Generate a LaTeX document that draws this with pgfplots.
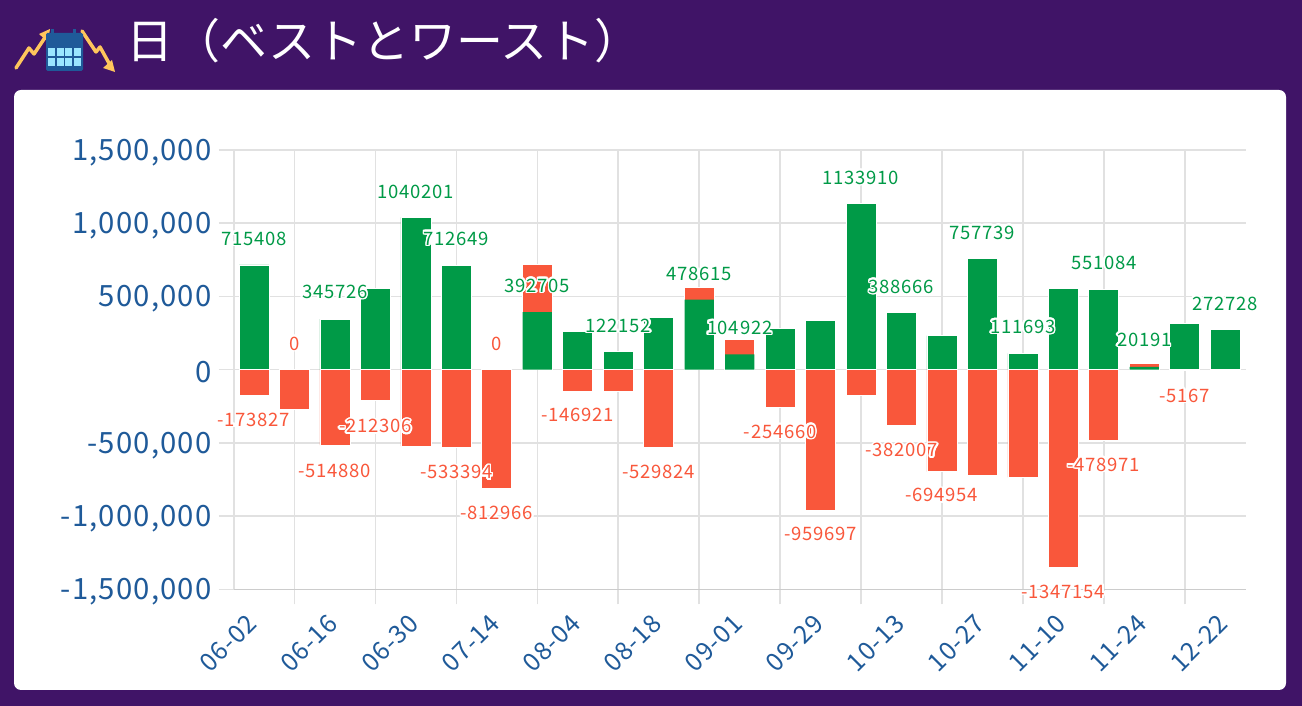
\documentclass[border=0pt]{standalone}
\usepackage{fontspec}
\setmainfont{Noto Sans CJK JP}
\newfontfamily\numf[LetterSpace=4]{Noto Sans CJK JP}
\usepackage{pgfplots}
\pgfplotsset{compat=1.18}
\usepackage{pgfplotstable}
\usepackage[copies]{contour}
\contournumber{24}
\contourlength{1.6pt}
\definecolor{bgc}{HTML}{401467}
\definecolor{gr}{HTML}{009A47}
\definecolor{rd}{HTML}{F9573B}
\definecolor{tickc}{HTML}{1F5A99}
\definecolor{gridc}{HTML}{E1E1E1}
\definecolor{axc}{HTML}{CCCCCC}
\definecolor{yel}{HTML}{FFC65C}
\definecolor{cal}{HTML}{1F5A99}
\definecolor{cell}{HTML}{9BE6FF}
\pgfplotstableread{
x top
7 719000
11 562000
12 205000
22 41000
}\redtop
\pgfplotstableread{
x y
7 392705
11 478615
12 104922
22 20191
}\posunder
\pgfplotstableread{
x y
0 715408
2 345726
3 556000
4 1040201
5 712649
8 260000
9 122152
10 356000
13 281000
14 336000
15 1133910
16 388666
17 233000
18 757739
19 111693
20 555000
21 551084
23 315000
24 272728
}\posdata
\pgfplotstableread{
x y
0 -173827
1 -270000
2 -514880
3 -212306
4 -522000
5 -533394
6 -812966
8 -146921
9 -147000
10 -529824
13 -254660
14 -959697
15 -174000
16 -382007
17 -694954
18 -720000
19 -734000
20 -1347154
21 -478971
23 -5167
24 -6000
}\negdata
\pgfplotstableread{
x y label
0 890800 715408
2 529000 345726
4 1211600 1040201
5 890800 712649
7 570000 392705
9 297000 122152
11 652000 478615
12 283000 104922
15 1307000 1133910
16 563000 388666
18 932000 757739
19 290000 111693
21 727000 551084
22 201000 20191
24 447000 272728
}\poslab
\pgfplotstableread{
x y label
0 -345000 -173827
1 174000 0
2 -693000 -514880
3 -392000 -212306
5 -706000 -533394
6 174000 0
6 -986000 -812966
8 -317000 -146921
10 -700000 -529824
13 -427000 -254660
14 -1123000 -959697
16 -556000 -382007
17 -863000 -694954
20 -1519000 -1347154
21 -652000 -478971
23 -181000 -5167
}\neglab
\begin{document}
\begin{tikzpicture}[x=1pt,y=1pt]
\useasboundingbox (0,0) rectangle (1302,706);
\fill[bgc] (0,0) rectangle (1302,706);
\fill[white,rounded corners=7pt] (14,16) rectangle (1286,616);
\begin{scope}[y=-1pt,shift={(0pt,706pt)}]
\draw[yel,line width=3.5pt,line cap=round,line join=round] (16,68)--(29,48)--(34,54)--(46,36);
\fill[yel] (50,29)--(39,34)--(48,42)--cycle;
\draw[yel,line width=3.5pt,line cap=round,line join=round] (82,31)--(96,52)--(100,47)--(110,65);
\fill[yel] (115,72)--(103,68)--(112,60)--cycle;
\fill[cal,rounded corners=1.5pt] (46,33) rectangle (83,71);
\fill[cal] (51,29) rectangle (54,35);
\fill[cal] (73,29) rectangle (76,35);
\foreach \cx in {48,56.5,65,73.5} \foreach \cy in {48,58} \fill[cell] (\cx,\cy) rectangle ++(7,8.5);
\node[anchor=west,inner sep=0pt,text=white,font=\fontsize{47}{47}\selectfont] at (126,41) {日（ベストとワースト）};
\end{scope}
\begin{axis}[
  at={(233.8pt,116.5pt)},anchor=south west,
  scale only axis,width=1011.7pt,height=439.5pt,
  xmin=-0.5,xmax=24.5,ymin=-1500000,ymax=1500000,
  clip=false,
  axis lines*=left,
  axis line style={-},
  x axis line style={draw=axc,line width=1.5pt},
  y axis line style={draw=gridc,line width=1.5pt},
  xtick={1,3,...,23},xticklabels={},
  ytick={-1500000,-1000000,-500000,0,500000,1000000,1500000},
  yticklabels={{-1,500,000},{-1,000,000},{-500,000},{0},{500,000},{1,000,000},{1,500,000}},
  scaled y ticks=false,
  grid=major,
  major grid style={draw=gridc,line width=1.5pt},
  tick style={draw=gridc,line width=1.5pt},
  tick align=outside,
  major tick length=15pt,
  yticklabel style={font=\numf\fontsize{29.3}{29.3}\selectfont,text=tickc,inner sep=0pt,xshift=-7pt,yshift=-2.5pt},
  extra x ticks={0,2,...,24},
  extra x tick labels={06-02,06-16,06-30,07-14,08-04,08-18,09-01,09-29,10-13,10-27,11-10,11-24,12-22},
  extra x tick style={grid=none,major tick length=0pt,tick style={draw=none},
    xticklabel style={rotate=45,anchor=north east,font=\numf\fontsize{25}{25}\selectfont,text=tickc,inner sep=0pt,xshift=-22pt,yshift=-10pt}},
]
\addplot[ybar,bar shift=0pt,bar width=30pt,fill=rd,draw=white,line width=0.8pt,forget plot] table[x=x,y=top] {\redtop};
\addplot[ybar,bar shift=0pt,bar width=29.2pt,fill=gr,draw=none,forget plot] table[x=x,y=y] {\posunder};
\addplot[ybar,bar shift=0pt,bar width=30pt,fill=gr,draw=white,line width=0.8pt,forget plot] table[x=x,y=y] {\posdata};
\addplot[ybar,bar shift=0pt,bar width=30pt,fill=rd,draw=white,line width=0.8pt,forget plot] table[x=x,y=y] {\negdata};
\addplot[draw=none,mark=none,forget plot,point meta=explicit symbolic,
  nodes near coords={\contour{white}{\pgfplotspointmeta}},
  every node near coord/.style={anchor=center,inner sep=0pt,text=gr,font=\numf\fontsize{18.5}{18.5}\selectfont}]
  table[x=x,y=y,meta=label] {\poslab};
\addplot[draw=none,mark=none,forget plot,point meta=explicit symbolic,
  nodes near coords={\contour{white}{\pgfplotspointmeta}},
  every node near coord/.style={anchor=center,inner sep=0pt,text=rd,font=\numf\fontsize{18.5}{18.5}\selectfont}]
  table[x=x,y=y,meta=label] {\neglab};
\end{axis}
\end{tikzpicture}
\end{document}
